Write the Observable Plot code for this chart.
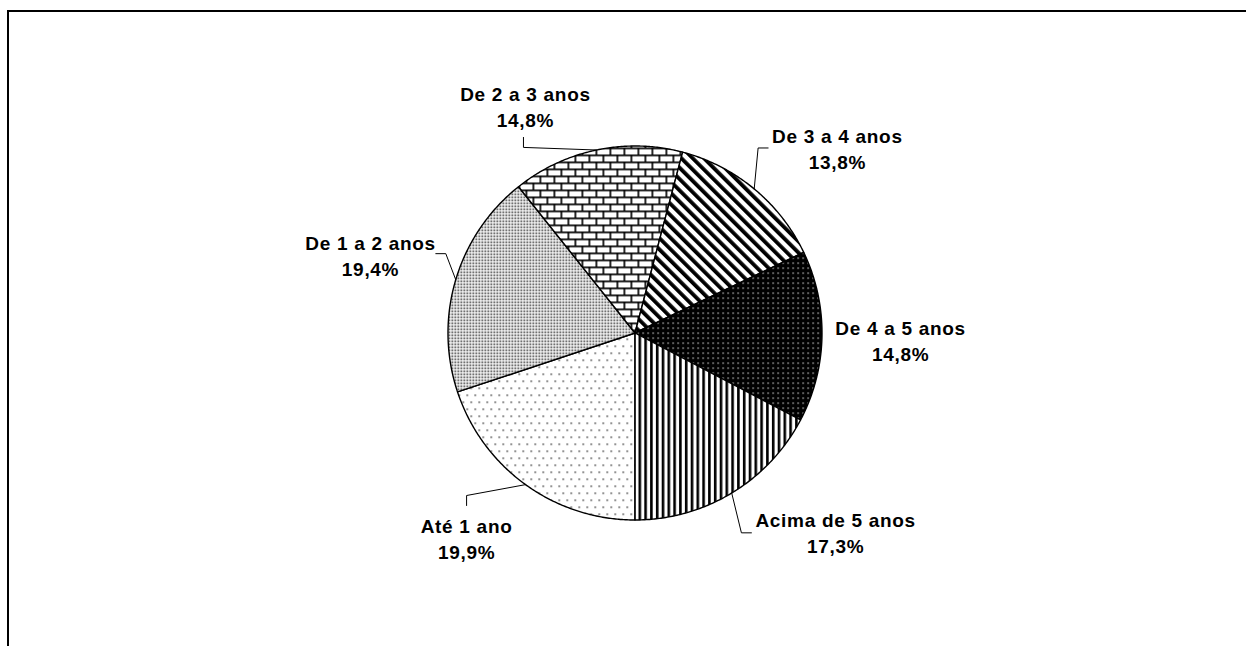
<!DOCTYPE html>
<html lang="pt">
<head>
<meta charset="utf-8">
<title>Tempo de serviço</title>
<script src="https://cdn.jsdelivr.net/npm/d3@7"></script>
<script src="https://cdn.jsdelivr.net/npm/@observablehq/plot@0.6"></script>
<style>
  html, body { margin: 0; padding: 0; background: #fff; overflow: hidden; }
  #chart { position: relative; width: 1246px; height: 646px; overflow: hidden; }
  #chart svg { position: absolute; left: 0; top: 0; }
  #frame {
    position: absolute; left: 7px; top: 10px; right: 0; bottom: 0;
    border-top: 2px solid #000; border-left: 2px solid #000;
    pointer-events: none;
  }
</style>
</head>
<body>
<div id="chart"><div id="frame"></div></div>
<script>
// Slices, in drawing order (clockwise from 6 o'clock)
const categories = ["Até 1 ano", "De 1 a 2 anos", "De 2 a 3 anos", "De 3 a 4 anos", "De 4 a 5 anos", "Acima de 5 anos"];
const shares = [19.9, 19.4, 14.8, 13.8, 14.8, 17.3];

// Fill pattern used by each slice
const patterns = ["sparse-dots", "fine-dots", "bricks", "wide-diagonal", "dark-dots", "vertical-lines"];

// Label placement: polar angle (degrees, clockwise from 12 o'clock) and distance in pie radii
const labelAngle = [219.2, 286.1, 334.1, 47.8, 92.0, 135.1];
const labelRadius = [1.425, 1.472, 1.341, 1.461, 1.421, 1.520];
// Which side of the label the leader line attaches to (null = no leader)
const leaderSide = ["above", "right", "below", "left", null, "left"];

const W = 1246, H = 646;
const cx = 634.5, cy = 332.5, R = 187;   // pie centre and radius, px
const FONT = "Arial, 'Liberation Sans', Helvetica, sans-serif";
const FONT_SIZE = 19, LETTER = 0.7;

const fmtPct = v => `${v.toFixed(1).replace(".", ",")}%`;
const rad = deg => deg * Math.PI / 180;
const px = v => v / R;               // pixel distance -> pie units

// Slice polygons from d3.pie angles, starting at the bottom of the pie
const arcs = d3.pie().sort(null).startAngle(Math.PI).endAngle(3 * Math.PI)(shares);
const slices = arcs.map((a, i) => {
  const n = Math.max(2, Math.ceil((a.endAngle - a.startAngle) / rad(0.5)));
  const pts = [{x: 0, y: 0}];
  for (let k = 0; k <= n; k++) {
    const t = a.startAngle + (a.endAngle - a.startAngle) * k / n;
    pts.push({x: Math.sin(t), y: Math.cos(t)});
  }
  return {name: categories[i], pattern: patterns[i], pts, mid: (a.startAngle + a.endAngle) / 2};
});

// Label anchors
const ctx = document.createElement("canvas").getContext("2d");
ctx.font = `bold ${FONT_SIZE}px ${FONT}`;
const textWidth = s => ctx.measureText(s).width + LETTER * s.length;

const labels = categories.map((name, i) => {
  const a = rad(labelAngle[i]);
  return {
    name, pct: fmtPct(shares[i]),
    x: labelRadius[i] * Math.sin(a),
    y: labelRadius[i] * Math.cos(a),
    half: Math.max(textWidth(name), textWidth(fmtPct(shares[i]))) / 2
  };
});

// Leader lines: from the slice's mid-arc point to an elbow next to its label
const leaders = [];
labels.forEach((l, i) => {
  const side = leaderSide[i];
  if (!side) return;
  const m = slices[i].mid;
  const start = {x: Math.sin(m), y: Math.cos(m)};
  let end, elbow;
  if (side === "above") {
    end = {x: l.x, y: l.y + px(34)}; elbow = {x: l.x, y: l.y + px(44)};
  } else if (side === "below") {
    end = {x: l.x - px(2), y: l.y - px(30)}; elbow = {x: l.x - px(2), y: l.y - px(40)};
  } else if (side === "left") {
    end = {x: l.x - px(l.half + 4), y: l.y + px(1.5)}; elbow = {x: end.x - px(10), y: end.y};
  } else {
    end = {x: l.x + px(l.half), y: l.y + px(3)}; elbow = {x: end.x + px(10), y: end.y};
  }
  leaders.push({name: l.name, pts: [start, elbow, end]});
});

const svg = Plot.plot({
  width: W, height: H,
  marginLeft: cx - R, marginRight: W - (cx + R),
  marginTop: cy - R, marginBottom: H - (cy + R),
  x: {domain: [-1, 1], axis: null},
  y: {domain: [-1, 1], axis: null},
  style: {background: "transparent", fontFamily: FONT, overflow: "visible", letterSpacing: `${LETTER}px`},
  marks: [
    ...slices.map(s => Plot.line(s.pts, {
      x: "x", y: "y", curve: "linear-closed",
      fill: `url(#${s.pattern})`, stroke: "#000", strokeWidth: 1.4, strokeLinejoin: "round"
    })),
    ...leaders.map(d => Plot.line(d.pts, {x: "x", y: "y", stroke: "#000", strokeWidth: 1})),
    Plot.text(labels, {x: "x", y: "y", text: "name", dy: -13, fontSize: FONT_SIZE, fontWeight: "bold", fill: "#000"}),
    Plot.text(labels, {x: "x", y: "y", text: "pct", dy: 13, fontSize: FONT_SIZE, fontWeight: "bold", fill: "#000"})
  ]
});

// Monochrome hatch patterns for the slices
const defs = d3.select(svg).insert("defs", ":first-child");
function pattern(id, w, h, bg, transform) {
  const p = defs.append("pattern").attr("id", id).attr("patternUnits", "userSpaceOnUse")
    .attr("width", w).attr("height", h);
  if (transform) p.attr("patternTransform", transform);
  p.append("rect").attr("width", w).attr("height", h).attr("fill", bg);
  return p;
}
// sparse staggered dots
{
  const p = pattern("sparse-dots", 8, 14, "#fff");
  [[2, 2], [6, 9]].forEach(([x, y]) => p.append("rect").attr("x", x).attr("y", y).attr("width", 1.4).attr("height", 1.4).attr("fill", "#222"));
}
// fine grey stipple
{
  const p = pattern("fine-dots", 3, 3, "#fff");
  p.append("rect").attr("x", 1).attr("y", 1).attr("width", 1.6).attr("height", 1.6).attr("fill", "#222");
}
// brick wall
{
  const p = pattern("bricks", 14, 14, "#fff");
  p.append("rect").attr("x", 0).attr("y", 0).attr("width", 14).attr("height", 1.7).attr("fill", "#000");
  p.append("rect").attr("x", 0).attr("y", 7).attr("width", 14).attr("height", 1.7).attr("fill", "#000");
  p.append("rect").attr("x", 0).attr("y", 0).attr("width", 1.7).attr("height", 7).attr("fill", "#000");
  p.append("rect").attr("x", 7).attr("y", 7).attr("width", 1.7).attr("height", 7).attr("fill", "#000");
}
// wide downward diagonal
{
  const p = pattern("wide-diagonal", 8, 8, "#fff", "rotate(-45)");
  p.append("rect").attr("x", 0).attr("y", 0).attr("width", 3.8).attr("height", 8).attr("fill", "#000");
}
// small white dots on black
{
  const p = pattern("dark-dots", 5, 5, "#000");
  p.append("rect").attr("x", 2).attr("y", 2).attr("width", 1.2).attr("height", 1.2).attr("fill", "#fff");
}
// narrow vertical
{
  const p = pattern("vertical-lines", 5.8, 6, "#fff");
  p.append("rect").attr("x", 0).attr("y", 0).attr("width", 2.6).attr("height", 6).attr("fill", "#000");
}

document.getElementById("chart").prepend(svg);
</script>
</body>
</html>
